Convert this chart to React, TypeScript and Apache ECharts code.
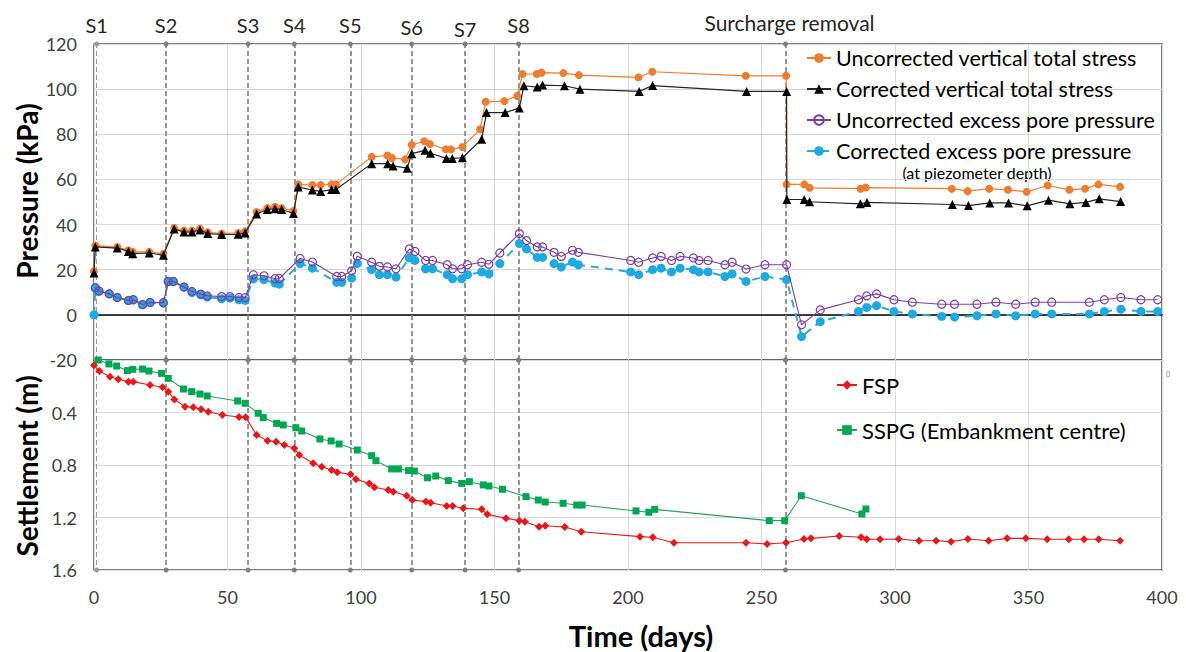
import React, { useEffect, useRef } from "react";
import * as echarts from "echarts";

const stageDays = [1, 27, 57.7, 75, 96, 119, 139, 159, 259];
const stageNames = ["S1", "S2", "S3", "S4", "S5", "S6", "S7", "S8", "Surcharge removal"];
const stageLabelDist = [9, 9, 9, 9, 9, 7, 5, 9, 11];

const xTicks = { min: 0, max: 400, interval: 50 };

const uncorrTotal = [
  [0, 19.3], [0.5, 30.7], [8.7, 30.1], [12.9, 28.6], [14.5, 27.9], [20.7, 27.9], [26, 27],
  [30, 38.5], [33.7, 37.3], [36.7, 37.3], [39.7, 38.2], [42.6, 36.6], [47.8, 36], [54, 36.3], [56.6, 37],
  [60.9, 45.6], [64.9, 47.3], [67.8, 47.9], [70.3, 47.3], [74.7, 46],
  [76.5, 57.8], [81.8, 57.5], [84.9, 57.5], [89, 57.8], [90.6, 57.8],
  [104, 70], [109.9, 70.6], [111.6, 69.5], [116.5, 68.9],
  [119, 75.3], [123.7, 76.9], [125.8, 75.7], [131.8, 73.3], [133.7, 73.3], [138, 74.4],
  [144.6, 82.2], [146.7, 94.4], [153.7, 94.7], [158.5, 97],
  [160.5, 106.7], [165.8, 106.7], [167.6, 107.3], [175.8, 107.1], [181.6, 106.2], [203.9, 105.2],
  [209.1, 107.7], [244.1, 105.9], [259.2, 105.9],
  [259.4, 57.8], [266, 57.8], [268, 56.3], [287.1, 55.9], [289, 56.4], [321.2, 55.9], [327.2, 54.8],
  [335.3, 55.9], [342.3, 55.4], [349.3, 54.5], [357.2, 57.3], [365.3, 55.4], [371.2, 55.9],
  [376.2, 57.8], [384.3, 56.7],
];

const corrTotal = [
  [0, 18.5], [0.5, 30.1], [8.7, 29.6], [12.9, 28.1], [14.5, 27.1], [20.7, 27.4], [26, 26.4],
  [30, 38], [33.7, 36.7], [36.7, 36.7], [39.7, 37.6], [42.6, 36], [47.8, 35.6], [54, 35.7], [56.6, 36.3],
  [60.9, 44.7], [64.9, 46.7], [67.8, 47], [70.3, 46.7], [74.7, 44.9],
  [76.5, 56.6], [81.8, 55.3], [84.9, 54.7], [89, 55.5], [90.6, 55.5],
  [104, 67], [110, 67], [112, 66], [117.3, 65],
  [119, 71.4], [124, 72.9], [126, 71.6], [132, 69.3], [134.2, 69.3], [138, 69.6],
  [145.2, 77.8], [147, 89.6], [154, 89.6], [159.3, 91.6],
  [161, 101.5], [166, 100.9], [168, 101.8], [176.2, 101.5], [182, 100], [204.2, 99],
  [209.2, 101.6], [244.4, 99], [259.4, 99],
  [259.5, 51.1], [266, 51.1], [268, 50.1], [287, 49.2], [289.5, 49.8], [321.5, 48.9], [327.5, 48.4],
  [335.5, 49.6], [342.5, 49.6], [349.5, 48.3], [357.5, 50.8], [365.5, 49.2], [371.5, 49.8],
  [376.5, 51.4], [384.5, 50.2],
];

const uncorrPore = [
  [0.5, 12], [1.9, 10.6], [5.7, 9.3], [8.7, 7.7], [12.9, 6.4], [14.7, 6.7], [18.2, 4.6], [21, 5.5], [26, 5.4],
  [27.8, 14.8], [29.7, 14.8], [33.7, 12.3], [36.7, 10.4], [40, 9.2], [42.4, 8.4], [47.8, 8.1], [50.9, 8.1],
  [54.3, 7.7], [56.6, 7.6],
  [59.7, 17.8], [63.7, 17.3], [67.8, 16], [69.4, 16.1], [77.2, 25], [81.8, 23.4], [90.9, 17], [92.8, 17],
  [96.5, 19.5], [98.6, 26], [104, 23.3], [106.9, 21.5], [109.9, 21.2], [113.1, 20.4],
  [118.1, 29.2], [120.2, 28.1], [124.2, 24.1], [126.8, 24.1], [132.3, 22.2], [134.3, 20.4], [137.7, 20.4],
  [139.9, 22.2], [145.2, 23.3], [147.9, 22.4], [152, 27.4],
  [159.3, 36], [162, 32.9], [166, 30.1], [168, 30.1], [172.3, 27.7], [175, 25.9], [179.2, 28.6], [181.4, 27.7],
  [201, 24.1], [204, 23.3], [209.2, 25.2], [212.4, 25.9], [216.3, 24.1], [219.5, 25.9], [224.5, 25.2],
  [226.6, 24.1], [230, 24.1], [236.3, 22.2], [239, 23.3], [244.2, 20.3], [251.3, 22.2], [259.4, 22.2],
  [265, -4.4], [272, 2.2], [286.3, 6.7], [289.4, 8.4], [293.1, 9.3], [299.6, 6.7], [306.5, 5.6],
  [317.5, 4.7], [322.3, 4.7], [330.7, 4.7], [337.8, 5.6], [345.2, 4.7], [352.5, 5.6], [358.7, 5.6],
  [372.8, 5.6], [378.4, 6.7], [384.6, 7.7], [392.1, 6.7], [398.4, 6.7],
];

const corrPore = [
  [0, 0], [0.5, 11.9], [1.9, 10.4], [5.7, 9.3], [8.7, 7.7], [12.9, 6.4], [14.7, 6.7], [18.2, 4.4], [21, 5.5], [26, 5.2],
  [27.8, 14.8], [29.7, 14.8], [33.7, 12.3], [36.7, 9.9], [40, 8.9], [42.4, 7.9], [47.8, 7.1], [50.9, 7.4],
  [54.3, 6.7], [56.6, 6.4],
  [59.7, 15.9], [63.7, 15.6], [67.8, 14.1], [69.4, 13.6], [77.2, 22.7], [81.8, 20.7], [90.9, 14.4], [92.8, 14.4],
  [96.5, 16.3], [98.6, 22.7], [104, 20], [106.9, 17.8], [109.9, 17.8], [113.1, 16.7],
  [118.1, 25.2], [120.2, 24.1], [124.2, 20.4], [126.8, 20.4], [132.3, 17.8], [134.3, 16], [137.7, 16],
  [139.9, 17.8], [145.2, 19], [147.9, 18.1], [152, 22.7],
  [159.3, 31.6], [162, 29.2], [166, 25.5], [168, 25.5], [172.3, 22.7], [175, 21.2], [179.2, 23.4], [181.4, 22.2],
  [201, 19], [204, 17.8], [209.2, 20], [212.4, 20.7], [216.3, 19], [219.5, 20.7], [224.5, 20],
  [226.6, 19], [230, 19], [236.3, 17], [239, 18.1], [244.2, 14.8], [251.3, 17], [259.4, 15.6],
  [265, -9.6], [272, -3], [286.3, 1.5], [289.4, 3.3], [293.1, 4.1], [299.6, 1.5], [306.5, 0.4],
  [317.5, -0.7], [322.3, -1], [330.7, -0.4], [337.8, 0.4], [345.2, -0.4], [352.5, 0.4], [358.7, 0.4],
  [372.8, 0.4], [378.4, 1.5], [384.6, 2.5], [392.1, 1.5], [398.4, 1.5],
];

const fsp = [
  [0, 0.04], [2, 0.084], [6, 0.127], [9.1, 0.147], [12.9, 0.165], [14.7, 0.165], [21, 0.19], [25.7, 0.208],
  [27.8, 0.241], [30.1, 0.3], [34.1, 0.356], [37.2, 0.36], [40.1, 0.376], [42.8, 0.394], [48.1, 0.419],
  [54.3, 0.434], [56.8, 0.437], [60.9, 0.571], [65, 0.615], [68.2, 0.622], [71.3, 0.648], [75, 0.673],
  [76.9, 0.724], [82.1, 0.787], [85.3, 0.813], [89, 0.838], [91.1, 0.856], [96.1, 0.871], [98.1, 0.909],
  [103.1, 0.94], [105, 0.97], [110.2, 0.99], [112.1, 1.003], [117.1, 1.034], [119.2, 1.067], [124.3, 1.079],
  [126.1, 1.087], [132.1, 1.112], [134.3, 1.112], [138.3, 1.13], [145.2, 1.138], [147.3, 1.176],
  [154.3, 1.206], [159.3, 1.224], [161.4, 1.232], [166.7, 1.27], [169, 1.263], [176.3, 1.272],
  [182.5, 1.308], [204.5, 1.346], [209.3, 1.351], [217.2, 1.392], [244.2, 1.392], [252.1, 1.402],
  [259.2, 1.392], [265.9, 1.364], [268.5, 1.359], [279.1, 1.341], [287.3, 1.351], [289.4, 1.366],
  [294.4, 1.366], [301.4, 1.364], [309, 1.377], [315.4, 1.377], [321, 1.384], [327.3, 1.364],
  [335.1, 1.377], [342, 1.359], [349, 1.359], [357, 1.366], [365.1, 1.366], [370.8, 1.366],
  [376.3, 1.366], [384.3, 1.377],
];

const sspg = [
  [1.6, 0.0], [5.6, 0.03], [8.5, 0.046], [12.5, 0.081], [14.5, 0.071], [18.2, 0.069], [20.6, 0.084],
  [25.3, 0.102], [27.8, 0.14], [33.5, 0.221], [36.6, 0.241], [39.7, 0.259], [42.4, 0.274], [53.8, 0.312],
  [56.6, 0.33], [61.5, 0.406], [63.4, 0.439], [68.4, 0.483], [70.9, 0.495], [75.6, 0.516], [77.8, 0.541],
  [84.6, 0.602], [88.8, 0.617], [91.8, 0.64], [98.6, 0.686], [104, 0.729], [105.6, 0.767], [111.5, 0.83],
  [114, 0.83], [117.8, 0.843], [120, 0.846], [124.9, 0.897], [128, 0.884], [132.7, 0.919], [137.7, 0.94],
  [140.6, 0.927], [145.8, 0.952], [147.9, 0.96], [153, 0.985], [161.8, 1.041], [166.4, 1.067], [169, 1.082],
  [175.7, 1.092], [180.8, 1.105], [182.8, 1.105], [203, 1.15], [207.8, 1.16], [210, 1.138], [252.9, 1.224],
  [258.7, 1.224], [264.9, 1.034], [287.6, 1.173], [289.1, 1.135],
];

const FONT = 'Lato, "Open Sans", sans-serif';
const GRID_C = "#d9d9d9";
const FRAME_C = "#595959";

function stageMarkLine(withLabels: boolean) {
  return {
    silent: true,
    symbol: ["circle", "circle"],
    symbolSize: 5,
    z: 1,
    lineStyle: { color: "#7f7f7f", type: [5, 3], width: 1.6 },
    label: withLabels
      ? { show: true, position: "end", formatter: "{b}", fontSize: 20, color: "#262626", fontFamily: FONT }
      : { show: false },
    data: stageDays.map((d, i) => ({
      name: stageNames[i],
      xAxis: d,
      lineStyle: i === 0 ? { width: 1, color: "#9a9a9a" } : undefined,
      label: withLabels
        ? {
            distance: stageLabelDist[i],
            fontSize: i === 8 ? 21 : 20,
            padding: i === 8 ? [0, 0, 0, 8] : 0,
          }
        : undefined,
    })),
  };
}

export default function App() {
  const ref = useRef<HTMLDivElement>(null);
  useEffect(() => {
    const chart = echarts.init(ref.current!, null, { renderer: "svg" });
    const option: any = {
      animation: false,
      backgroundColor: "#fff",
      textStyle: { fontFamily: FONT },
      grid: [
        { left: 94, top: 44, width: 1068, height: 316, show: true, borderColor: FRAME_C, borderWidth: 1.5, backgroundColor: "transparent" },
        { left: 94, top: 360, width: 1068, height: 210, show: true, borderColor: FRAME_C, borderWidth: 1.5, backgroundColor: "transparent" },
      ],
      xAxis: [
        {
          type: "value", gridIndex: 0, ...xTicks,
          axisLabel: { show: false }, axisTick: { show: false },
          axisLine: { show: true, onZero: true, lineStyle: { color: "#000", width: 1.5 } },
          splitLine: { show: true, lineStyle: { color: GRID_C, width: 1 } },
        },
        {
          type: "value", gridIndex: 1, ...xTicks,
          axisLabel: { show: true, fontSize: 18, color: "#404040", margin: 18, fontFamily: FONT },
          axisTick: { show: false },
          axisLine: { show: false },
          splitLine: { show: true, lineStyle: { color: GRID_C, width: 1 } },
          name: "Time (days)", nameLocation: "middle", nameGap: 51,
          nameTextStyle: { fontSize: 29, fontWeight: "bold", color: "#000", fontFamily: FONT, padding: [0, 0, 0, 26] },
        },
      ],
      yAxis: [
        {
          type: "value", gridIndex: 0, min: -20, max: 120, interval: 20,
          axisLabel: { fontSize: 18, color: "#404040", margin: 17, fontFamily: FONT },
          axisTick: { show: false }, axisLine: { show: false },
          splitLine: { show: true, lineStyle: { color: GRID_C, width: 1 } },
        },
        {
          type: "value", gridIndex: 1, min: 0, max: 1.6, interval: 0.4, inverse: true,
          axisLabel: {
            fontSize: 18, color: "#404040", margin: 17, fontFamily: FONT,
            formatter: (v: number) => (v === 0 ? "" : v.toFixed(1)),
          },
          axisTick: { show: false }, axisLine: { show: false },
          splitLine: { show: true, lineStyle: { color: GRID_C, width: 1 } },
        },
      ],
      legend: [
        {
          orient: "vertical", left: 806, top: 47, padding: 0, itemWidth: 24, itemHeight: 12, itemGap: 9,
          textStyle: { fontSize: 21.5, lineHeight: 22, color: "#000", fontFamily: FONT },
          data: [
            "Uncorrected vertical total stress",
            "Corrected vertical total stress",
            "Uncorrected excess pore pressure",
            "Corrected excess pore pressure",
          ],
        },
        {
          orient: "vertical", left: 836, top: 374, padding: 0, itemWidth: 20, itemHeight: 12, itemGap: 23,
          textStyle: { fontSize: 22, lineHeight: 22, color: "#000", fontFamily: FONT },
          data: ["FSP", "SSPG (Embankment centre)"],
        },
      ],
      graphic: [
        { type: "text", x: 977, y: 172, style: { text: "(at piezometer depth)", fontSize: 16, fill: "#000", fontFamily: FONT, textAlign: "center", textVerticalAlign: "middle" } },
        { type: "text", x: 27, y: 191, rotation: Math.PI / 2, style: { text: "Pressure (kPa)", fontSize: 28, fontWeight: "bold", fill: "#000", fontFamily: FONT, textAlign: "center", textVerticalAlign: "middle" } },
        { type: "text", x: 27, y: 466, rotation: Math.PI / 2, style: { text: "Settlement (m)", fontSize: 28, fontWeight: "bold", fill: "#000", fontFamily: FONT, textAlign: "center", textVerticalAlign: "middle" } },
        { type: "text", x: 1166, y: 370, style: { text: "0", fontSize: 7, fill: "#888", fontFamily: FONT } },
      ],
      series: [
        {
          name: "Uncorrected vertical total stress", type: "line", xAxisIndex: 0, yAxisIndex: 0, z: 2,
          data: uncorrTotal, symbol: "circle", symbolSize: 8,
          itemStyle: { color: "#ED7D31" }, lineStyle: { color: "#ED7D31", width: 1.2 },
          markLine: stageMarkLine(true),
        },
        {
          name: "Corrected vertical total stress", type: "line", xAxisIndex: 0, yAxisIndex: 0, z: 3,
          data: corrTotal, symbol: "triangle", symbolSize: 9,
          itemStyle: { color: "#000" }, lineStyle: { color: "#262626", width: 1.2 },
        },
        {
          name: "Corrected excess pore pressure", type: "line", xAxisIndex: 0, yAxisIndex: 0, z: 3,
          data: corrPore, symbol: "circle", symbolSize: 9,
          itemStyle: { color: "#1FA9E1" }, lineStyle: { color: "#33A9C9", width: 2, type: [8, 6] },
        },
        {
          name: "Uncorrected excess pore pressure", type: "line", xAxisIndex: 0, yAxisIndex: 0, z: 4,
          data: uncorrPore, symbol: "circle", symbolSize: 8,
          itemStyle: { color: "rgba(255,255,255,0)", borderColor: "#7B3FA0", borderWidth: 1.2 },
          lineStyle: { color: "#7B3FA0", width: 1.1 },
        },
        {
          name: "FSP", type: "line", xAxisIndex: 1, yAxisIndex: 1, z: 3,
          data: fsp, symbol: "diamond", symbolSize: 8,
          itemStyle: { color: "#E31A1C" }, lineStyle: { color: "#E31A1C", width: 1.1 },
          markLine: stageMarkLine(false),
        },
        {
          name: "SSPG (Embankment centre)", type: "line", xAxisIndex: 1, yAxisIndex: 1, z: 3,
          data: sspg, symbol: "rect", symbolSize: 7,
          itemStyle: { color: "#00A651" }, lineStyle: { color: "#2E9E5B", width: 1.1 },
        },
      ],
    };
    chart.setOption(option);
    return () => chart.dispose();
  }, []);
  return (
    <div
      ref={ref}
      style={{ position: "fixed", left: 0, top: 0, width: 1186, height: 652, background: "#fff" }}
    />
  );
}
